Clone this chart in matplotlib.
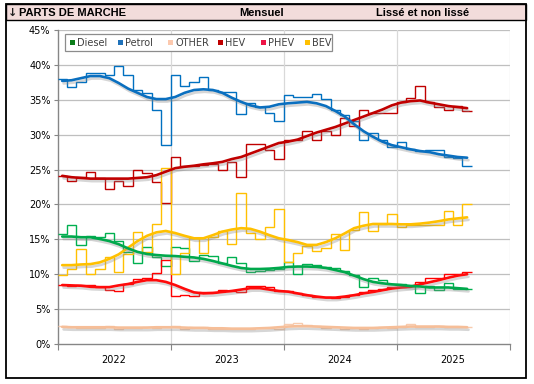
import numpy as np
import matplotlib
matplotlib.use("Agg")
import matplotlib.pyplot as plt
import matplotlib.patheffects as pe
from matplotlib.patches import Rectangle

plt.rcParams['font.family'] = ['DejaVu Sans']

# ---------------- data (monthly, Jan 2022 .. Aug 2025) ----------------
years = ["2022", "2023", "2024", "2025"]
series_names = ["Diesel", "Petrol", "OTHER", "HEV", "PHEV", "BEV"]

diesel_raw = [15.7, 17.05, 14.2, 15.5, 15.4, 15.9, 14.7, 13.2, 11.6, 13.9, 12.5, 11.2,
              13.9, 13.8, 11.9, 12.75, 12.6, 11.6, 12.4, 11.6, 10.3, 10.5, 10.6, 10.75,
              11.8, 10.0, 11.4, 11.3, 11.0, 10.9, 10.5, 9.9, 8.1, 9.5, 9.15, 8.6,
              8.6, 8.45, 7.3, 8.3, 7.75, 8.7, 7.95, 7.9]
petrol_raw = [38.0, 36.8, 37.5, 38.8, 38.8, 38.5, 39.8, 38.6, 36.4, 35.9, 33.6, 28.5,
              38.6, 37.0, 37.6, 38.3, 36.4, 36.1, 36.1, 32.9, 34.6, 33.9, 33.1, 32.0,
              35.7, 35.4, 35.4, 35.8, 35.1, 33.6, 32.8, 31.9, 29.3, 30.3, 29.3, 28.3,
              29.0, 28.0, 27.6, 27.8, 27.8, 26.8, 26.7, 25.5]
other_raw = [2.6, 2.4, 2.3, 2.3, 2.3, 2.6, 2.1, 2.3, 2.3, 2.4, 2.3, 2.5,
             2.6, 2.2, 2.4, 2.4, 2.2, 2.1, 2.2, 2.1, 2.1, 2.3, 2.3, 2.2,
             2.8, 3.0, 2.7, 2.6, 2.3, 2.4, 2.2, 2.3, 2.2, 2.3, 2.4, 2.3,
             2.5, 2.9, 2.4, 2.4, 2.6, 2.5, 2.4, 2.4]
hev_raw = [24.1, 23.4, 24.0, 24.6, 23.8, 22.2, 23.4, 22.6, 24.9, 24.5, 23.2, 20.2,
           26.8, 25.5, 25.5, 25.7, 25.8, 25.0, 26.1, 23.9, 28.6, 28.6, 27.8, 26.5,
           29.2, 29.3, 30.5, 29.3, 30.5, 30.0, 32.4, 31.2, 33.5, 33.1, 33.1, 33.1,
           34.7, 35.2, 37.0, 34.7, 33.9, 33.5, 34.1, 33.4]
phev_raw = [8.45, 8.3, 8.5, 8.4, 8.1, 7.8, 7.6, 8.55, 9.3, 9.4, 10.2, 12.0,
            6.9, 7.0, 6.9, 7.5, 7.45, 7.7, 7.6, 7.45, 8.35, 8.35, 8.2, 7.6,
            7.6, 7.25, 7.0, 6.8, 6.7, 6.55, 6.7, 7.0, 7.4, 7.7, 7.9, 8.1,
            8.1, 8.25, 8.9, 9.5, 9.45, 10.05, 10.1, 10.3]
bev_raw = [9.9, 10.8, 13.6, 10.0, 10.7, 12.4, 10.3, 12.9, 16.0, 13.2, 17.2, 25.2,
           10.1, 13.0, 15.2, 13.0, 15.3, 16.2, 14.4, 21.6, 15.9, 15.1, 16.8, 19.4,
           11.8, 13.0, 14.0, 13.3, 13.7, 15.7, 13.5, 16.4, 18.9, 16.2, 17.15, 18.7,
           16.7, 17.1, 17.1, 17.0, 17.1, 19.1, 17.05, 20.0]

diesel_smooth = [15.4, 15.4, 15.3, 15.3, 15.05, 14.75, 14.3, 13.7, 13.2, 12.9, 12.75, 12.65,
                 12.6, 12.5, 12.4, 12.2, 11.9, 11.55, 11.2, 10.9, 10.75, 10.75, 10.8, 10.9,
                 11.05, 11.1, 11.1, 11.05, 10.9, 10.6, 10.3, 9.8, 9.3, 8.9, 8.7, 8.55,
                 8.45, 8.3, 8.25, 8.1, 8.1, 8.1, 8.0, 7.9]
petrol_smooth = [37.7, 37.8, 38.1, 38.4, 38.4, 38.1, 37.4, 36.6, 36.0, 35.4, 35.1, 35.1,
                 35.4, 36.0, 36.4, 36.5, 36.4, 36.0, 35.3, 34.7, 34.2, 33.9, 34.0, 34.35,
                 34.5, 34.6, 34.7, 34.5, 34.1, 33.4, 32.6, 31.5, 30.5, 29.7, 29.0, 28.5,
                 28.2, 27.9, 27.65, 27.5, 27.2, 27.0, 26.8, 26.7]
other_smooth = [2.45, 2.4, 2.4, 2.4, 2.4, 2.4, 2.35, 2.35, 2.35, 2.35, 2.4, 2.4,
                2.4, 2.35, 2.3, 2.3, 2.25, 2.25, 2.2, 2.2, 2.2, 2.25, 2.3, 2.4,
                2.5, 2.55, 2.55, 2.5, 2.45, 2.4, 2.35, 2.3, 2.3, 2.3, 2.35, 2.4,
                2.45, 2.5, 2.5, 2.5, 2.5, 2.45, 2.45, 2.4]
hev_smooth = [24.1, 23.9, 23.8, 23.7, 23.7, 23.7, 23.7, 23.7, 23.8, 23.9, 24.2, 24.7,
              25.2, 25.4, 25.55, 25.75, 25.9, 26.1, 26.5, 26.8, 27.3, 27.8, 28.3, 28.8,
              29.0, 29.3, 29.8, 30.3, 30.7, 31.1, 31.6, 32.1, 32.6, 33.1, 33.6, 34.2,
              34.6, 34.8, 34.9, 34.6, 34.35, 34.1, 33.95, 33.8]
phev_smooth = [8.45, 8.4, 8.35, 8.2, 8.15, 8.15, 8.4, 8.6, 8.9, 9.15, 9.15, 8.9,
               8.45, 7.9, 7.4, 7.25, 7.3, 7.45, 7.6, 7.8, 8.0, 8.0, 7.8, 7.6,
               7.5, 7.25, 7.0, 6.8, 6.65, 6.65, 6.8, 7.0, 7.25, 7.45, 7.7, 7.95,
               8.1, 8.2, 8.55, 8.85, 9.15, 9.5, 9.8, 10.0]
bev_smooth = [11.3, 11.3, 11.4, 11.45, 11.7, 12.2, 12.85, 13.8, 14.75, 15.5, 16.0, 16.2,
              15.9, 15.5, 15.15, 15.15, 15.6, 16.1, 16.4, 16.6, 16.5, 16.1, 15.6, 15.15,
              14.9, 14.6, 14.2, 14.2, 14.6, 15.15, 15.85, 16.6, 16.95, 17.2, 17.2, 17.2,
              17.15, 17.15, 17.25, 17.4, 17.6, 17.85, 18.0, 18.15]

y_ticks = [0, 5, 10, 15, 20, 25, 30, 35, 40, 45]

# ---------------- styling ----------------
line_colors = {"Diesel": "#00B050", "Petrol": "#0070C0", "OTHER": "#F8CBAD",
               "HEV": "#C00000", "PHEV": "#FF0000", "BEV": "#FFC000"}
smooth_colors = {"Diesel": "#00A84C", "Petrol": "#0A6FBF", "OTHER": "#F6BE98",
                 "HEV": "#C00000", "PHEV": "#FF0A0A", "BEV": "#FFC000"}
legend_colors = {"Diesel": "#0B7D1A", "Petrol": "#1F72BA", "OTHER": "#FCC9AE",
                 "HEV": "#C00000", "PHEV": "#EE1446", "BEV": "#FFC000"}

raw = {"Diesel": diesel_raw, "Petrol": petrol_raw, "OTHER": other_raw,
       "HEV": hev_raw, "PHEV": phev_raw, "BEV": bev_raw}
smooth = {"Diesel": diesel_smooth, "Petrol": petrol_smooth, "OTHER": other_smooth,
          "HEV": hev_smooth, "PHEV": phev_smooth, "BEV": bev_smooth}

W, H = 534, 384
fig = plt.figure(figsize=(W / 100, H / 100), dpi=100)
fig.patch.set_facecolor("white")

def fx(x):
    return x / W

def fy(y):
    return 1 - y / H

# outer frame + header band
fig.patches.append(Rectangle((fx(6), fy(378)), fx(526) - fx(6), fy(4) - fy(378),
                             transform=fig.transFigure, facecolor="none",
                             edgecolor="black", lw=1.3, zorder=10))
fig.patches.append(Rectangle((fx(6), fy(20)), fx(526) - fx(6), fy(4) - fy(20),
                             transform=fig.transFigure, facecolor="#F2DCDB",
                             edgecolor="black", lw=1.0, zorder=1))
hdr = dict(fontsize=8, fontweight="bold", va="center", color="black",
           family=["Liberation Sans", "DejaVu Sans"], zorder=11)
fig.text(fx(8), fy(12.5), "\u2193", ha="left", fontsize=8, fontweight="bold",
         va="center", color="#202020", family=["DejaVu Sans"], zorder=11)
fig.text(fx(19), fy(12.5), "PARTS DE MARCHE", ha="left", **hdr)
fig.text(fx(262), fy(12.5), "Mensuel", ha="center", **hdr)
fig.text(fx(376), fy(12.5), "Lissé et non lissé", ha="left", **hdr)

ax = fig.add_axes([fx(57.5), fy(344), fx(509.5) - fx(57.5), fy(30) - fy(344)])
ax.set_facecolor("white")

n = len(diesel_raw)
edges = np.arange(n + 1)
centers = np.arange(n) + 0.5

shadow = [pe.SimpleLineShadow(offset=(1.0, -1.8), shadow_color="#8a8a8a", alpha=0.35),
          pe.Normal()]

for name in series_names:
    ax.stairs(raw[name], edges, baseline=None, color=line_colors[name], lw=1.0, zorder=3)
for name in ["OTHER", "PHEV", "BEV", "Diesel", "HEV", "Petrol"]:
    ax.plot(centers, smooth[name], color=smooth_colors[name], lw=1.9,
            solid_capstyle="round", path_effects=shadow, zorder=4)

ax.set_xlim(0, 48)
ax.set_ylim(0, 45)
ax.set_yticks(y_ticks)
ax.set_yticklabels([f"{v}%" for v in y_ticks])
ax.set_xticks([0, 12, 24, 36, 48])
ax.set_xticklabels([])
ax.set_xticks([6, 18, 30, 42], minor=True)
ax.set_xticklabels(years, minor=True)
ax.tick_params(axis="x", which="minor", length=0, pad=8, labelsize=7)
ax.tick_params(axis="x", which="major", length=4, color="#868686", direction="out")
ax.tick_params(axis="y", length=3, color="#868686", labelsize=7, pad=2)

for v in y_ticks[1:]:
    ax.axhline(v, color="#BFBFBF", lw=0.9, zorder=1)
for v in [12, 24, 36, 48]:
    ax.axvline(v, color="#D9D9D9", lw=0.9, zorder=1)

for s in ["top", "right"]:
    ax.spines[s].set_visible(False)
for s in ["left", "bottom"]:
    ax.spines[s].set_color("#868686")
    ax.spines[s].set_linewidth(1.0)

# legend (manual)
fig.patches.append(Rectangle((fx(65), fy(51)), fx(332) - fx(65), fy(34) - fy(51),
                             transform=fig.transFigure, facecolor="white",
                             edgecolor="#8c8c8c", lw=0.9, zorder=5))
leg_x = [70, 118, 168, 218, 261, 305]
for name, x0 in zip(series_names, leg_x):
    fig.patches.append(Rectangle((fx(x0), fy(45)), fx(5), fy(40) - fy(45),
                                 transform=fig.transFigure, facecolor=legend_colors[name],
                                 edgecolor="none", zorder=6))
    fig.text(fx(x0 + 7), fy(42.5), name, fontsize=7, va="center", ha="left",
             color="#404040", zorder=6)

fig.savefig("out.png", dpi=100, facecolor="white")
